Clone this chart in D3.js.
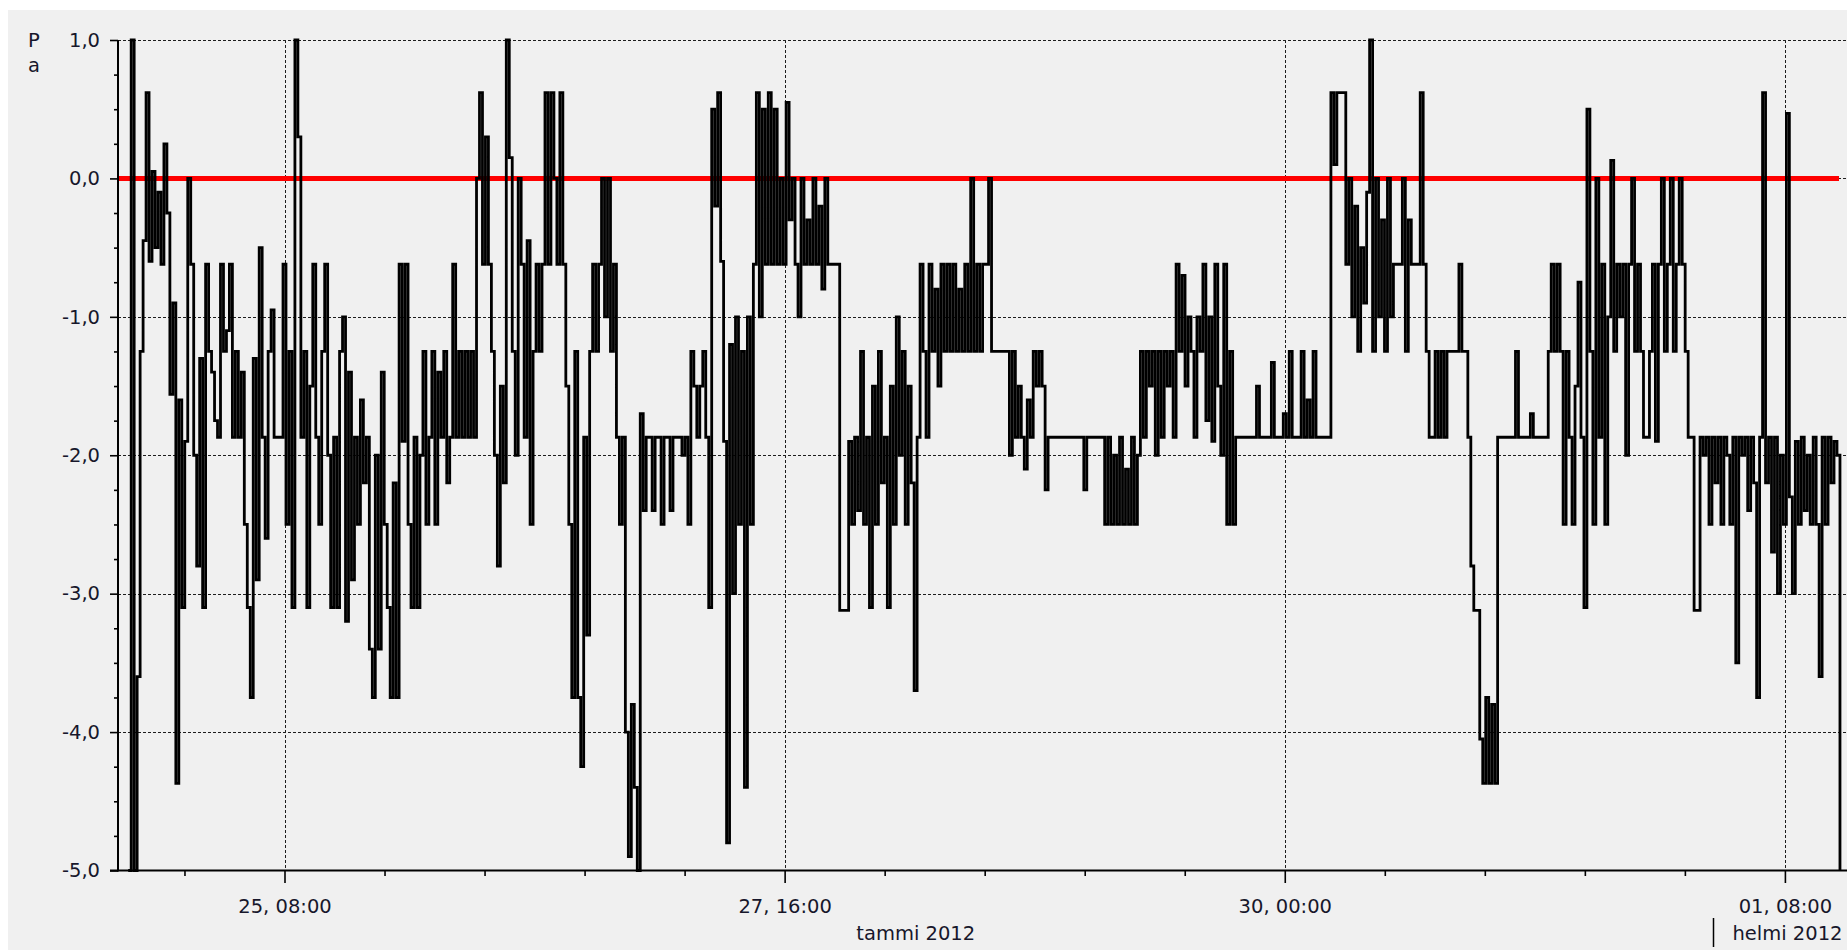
<!DOCTYPE html>
<html><head><meta charset="utf-8">
<script src="https://cdn.jsdelivr.net/npm/d3@7"></script>
<style>
html,body{margin:0;padding:0;background:#fff;overflow:hidden}
svg{display:block}
text{font-family:"DejaVu Sans",sans-serif;fill:#17172b}
</style></head><body>
<svg id="c" width="1847" height="950"></svg>
<script>
// ---- data ----
const startTime = "2012-01-24T14:30:00";
const sampleMinutes = 20;
const seg1 = [-5.0,1.0,-5.0,-3.6,-1.25,-0.45,0.62,-0.6,0.05,-0.5,
 -0.1,-0.62,0.25,-0.25,-1.56,-0.9,-4.37,-1.6,-3.1,-1.9,
 0.0,-0.62,-2.0,-2.8,-1.3,-3.1,-0.62,-1.25,-1.4,-1.75,
 -1.87,-0.62,-1.25,-1.1,-0.62,-1.87,-1.25,-1.87,-1.4,-2.5,
 -3.1,-3.75,-1.3,-2.9,-0.5,-1.87,-2.6,-1.25,-0.95,-1.87,
 -1.87,-1.87,-0.62,-2.5,-1.25,-3.1,1.0,0.3,-1.87,-1.25,
 -3.1,-1.5,-0.62,-1.87,-2.5,-1.25,-0.62,-2.0,-3.1,-1.87,
 -3.1,-1.25];
const seg2 = [-1.0,-3.2,-1.4,-2.9,-1.87,-2.5,-1.6,-2.2,-1.87,-3.4,
 -3.75,-2.0,-3.4,-1.4,-2.5,-3.1,-3.75,-2.2,-3.75,-0.62,
 -1.9,-0.62,-2.5,-3.1,-1.87,-3.1,-2.0,-1.25,-2.5,-1.87,
 -1.25,-2.5,-1.4,-1.87,-1.25,-2.2,-1.87,-0.62,-1.87,-1.25,
 -1.87,-1.25,-1.87,-1.25,-1.87,0.0,0.62,-0.62,0.3,-0.62,
 -1.25,-2.0,-2.8,-1.5,-2.2,1.0,0.15,-1.25,-2.0,0.0,
 -0.62,-1.87,-0.45,-2.5,-1.25,-0.62,-1.25,-0.62,0.62,-0.62,
 0.62,0.0];
const seg3 = [-0.62,0.62,-0.62,-1.5,-2.5,-3.75,-1.25,-3.75,-4.25,-1.87,
 -3.3,-1.25,-0.62,-1.25,-0.62,0.0,-1.0,0.0,-1.25,-0.62,
 -1.87,-2.5,-1.87,-4.0,-4.9,-3.8,-4.4,-5.0,-1.7,-2.4,
 -1.87,-1.87,-2.4,-1.87,-1.87,-2.5,-1.87,-1.87,-2.4,-1.87,
 -1.87,-1.87,-2.0,-1.87,-2.5,-1.25,-1.5,-1.87,-1.5,-1.25,
 -1.87,-3.1,0.5,-0.2,0.62,-0.6,-1.9,-4.8,-1.2,-3.0,
 -1.0,-2.5,-1.25,-4.4,-1.0,-2.5,-0.62,0.62,-1.0,0.5,
 -0.62,0.62];
const seg4 = [-0.62,0.5,-0.62,0.0,-0.62,0.55,-0.3,0.0,-0.62,-1.0,
 0.0,-0.62,-0.3,-0.62,0.0,-0.62,-0.2,-0.8,0.0,-0.62,
 -0.62,-0.62,-0.62,-3.12,-3.12,-3.12,-1.9,-2.5,-1.87,-2.4,
 -1.25,-2.5,-1.87,-3.1,-1.5,-2.5,-1.25,-2.2,-1.87,-3.1,
 -1.5,-2.5,-1.0,-2.0,-1.25,-2.5,-1.5,-2.2,-3.7,-1.87,
 -0.62,-1.25,-1.87,-0.62,-1.25,-0.8,-1.5,-0.62,-1.25,-0.62,
 -1.25,-0.62,-1.25,-0.8,-1.25,-0.62,-1.25,0.0,-1.25,-0.62,
 -1.25,-0.62];
const seg5 = [-0.62,0.0,-1.25,-1.25,-1.25,-1.25,-1.25,-1.25,-2.0,-1.25,
 -1.87,-1.5,-1.87,-2.1,-1.6,-1.87,-1.25,-1.5,-1.25,-1.5,
 -2.25,-1.87,-1.87,-1.87,-1.87,-1.87,-1.87,-1.87,-1.87,-1.87,
 -1.87,-1.87,-1.87,-2.25,-1.87,-1.87,-1.87,-1.87,-1.87,-1.87,
 -2.5,-1.87,-2.5,-2.0,-2.5,-1.87,-2.5,-2.1,-2.5,-1.87,
 -2.5,-2.0,-1.25,-1.87,-1.25,-1.5,-1.25,-2.0,-1.25,-1.87,
 -1.25,-1.5,-1.25,-1.87,-0.62,-1.25,-0.7,-1.5,-1.0,-1.25,
 -1.87,-1.0];
const seg6 = [-1.25,-0.62,-1.75,-1.0,-1.9,-0.62,-1.5,-2.0,-0.62,-2.5,
 -1.25,-2.5,-1.87,-1.87,-1.87,-1.87,-1.87,-1.87,-1.87,-1.5,
 -1.87,-1.87,-1.87,-1.87,-1.33,-1.87,-1.87,-1.87,-1.7,-1.87,
 -1.25,-1.87,-1.87,-1.87,-1.25,-1.87,-1.6,-1.87,-1.25,-1.87,
 -1.87,-1.87,-1.87,-1.87,0.62,0.1,0.62,0.62,0.62,-0.62,
 0.0,-1.0,-0.2,-1.25,-0.5,-0.9,-0.1,1.0,-1.25,0.0,
 -1.0,-0.3,-1.25,0.0,-1.0,-0.62,-0.62,-0.62,0.0,-1.25,
 -0.3,-0.62];
const seg7 = [-0.62,-0.62,0.62,-0.62,-1.25,-1.87,-1.87,-1.25,-1.87,-1.25,
 -1.87,-1.25,-1.25,-1.25,-1.25,-0.62,-1.25,-1.25,-1.87,-2.8,
 -3.12,-3.12,-4.05,-4.37,-3.75,-4.37,-3.8,-4.37,-1.87,-1.87,
 -1.87,-1.87,-1.87,-1.87,-1.25,-1.87,-1.87,-1.87,-1.87,-1.7,
 -1.87,-1.87,-1.87,-1.87,-1.87,-1.25,-0.62,-1.25,-0.62,-1.25,
 -2.5,-1.25,-1.87,-2.5,-1.5,-0.75,-1.87,-3.1,0.5,-1.25,
 -2.5,0.0,-1.87,-0.62,-2.5,-1.0,0.13,-1.25,-0.62,-1.0,
 -0.62,-2.0];
const seg8 = [-0.62,0.0,-1.25,-0.62,-1.25,-1.87,-1.87,-1.25,-0.62,-1.9,
 -0.62,0.0,-1.25,-0.62,0.0,-1.25,-0.62,0.0,-0.62,-1.25,
 -1.87,-1.87,-3.12,-3.12,-1.87,-2.0,-1.87,-2.5,-1.87,-2.2,
 -1.87,-2.5,-1.87,-2.0,-2.5,-1.87,-3.5,-1.87,-2.0,-1.87,
 -2.4,-1.87,-2.2,-3.75,-1.87,0.62,-2.2,-1.87,-2.7,-1.87,
 -3.0,-2.0,-2.5,0.47,-2.3,-3.0,-1.9,-2.5,-1.87,-2.4,
 -2.0,-2.5,-1.87,-2.5,-3.6,-1.87,-2.5,-1.87,-2.2,-1.9,
 -2.0,-5.0];
const referenceValue = 0;
const yTicks = [1, 0, -1, -2, -3, -4, -5];
const yTickLabels = ["1,0", "0,0", "-1,0", "-2,0", "-3,0", "-4,0", "-5,0"];
const majorTimes = ["2012-01-25T08:00:00", "2012-01-27T16:00:00", "2012-01-30T00:00:00", "2012-02-01T08:00:00"];
const majorLabels = ["25, 08:00", "27, 16:00", "30, 00:00", "01, 08:00"];
const monthBoundary = "2012-02-01T00:00:00";
const monthLabels = ["tammi 2012", "helmi 2012"];
const yAxisLabel = ["P", "a"];

// ---- build ----
const W = 1847, H = 950;
const svg = d3.select("#c");
svg.append("rect").attr("width", W).attr("height", H).attr("fill", "#fff");
svg.append("rect").attr("x", 8).attr("y", 10).attr("width", W - 8).attr("height", H - 10).attr("fill", "#f0f0f0");

const majors = majorTimes.map(s => new Date(s));
const x = d3.scaleTime().domain([majors[0], majors[majors.length - 1]]).range([284.5, 1784.9]);
const y = d3.scaleLinear().domain([-5, 1]).range([870.5, 40]);
const left = 118, right = W;

const values = [].concat(seg1, seg2, seg3, seg4, seg5, seg6, seg7, seg8);
const t0 = +new Date(startTime);
const data = values.map((v, i) => ({t: new Date(t0 + i * sampleMinutes * 60000), v}));

// grid
const grid = svg.append("g");
grid.selectAll("line.h").data(yTicks.filter(v => v !== -5)).join("line").attr("class", "h")
  .attr("x1", left).attr("x2", right)
  .attr("y1", d => Math.round(y(d)) + 0.5).attr("y2", d => Math.round(y(d)) + 0.5)
  .attr("stroke", "#1e1e1e").attr("stroke-width", 1).attr("stroke-dasharray", "3,2");
grid.selectAll("line.v").data(majors).join("line").attr("class", "v")
  .attr("x1", d => Math.round(x(d)) + 0.5).attr("x2", d => Math.round(x(d)) + 0.5)
  .attr("y1", y(1)).attr("y2", y(-5))
  .attr("stroke", "#1e1e1e").attr("stroke-width", 1).attr("stroke-dasharray", "3,2");

// reference line
svg.append("line").attr("x1", left).attr("x2", 1839)
  .attr("y1", y(referenceValue)).attr("y2", y(referenceValue))
  .attr("stroke", "#ff0000").attr("stroke-width", 5);

// data line
const line = d3.line().x(d => x(d.t)).y(d => y(d.v)).curve(d3.curveStepAfter);
svg.append("path").datum(data).attr("d", line)
  .attr("fill", "none").attr("stroke", "#000").attr("stroke-width", 2.8)
  .attr("stroke-linejoin", "miter");

// axes
const step = (majors[1] - majors[0]) / 5;
const minorTimes = d3.range(-3, 40).map(k => new Date(+majors[0] + k * step))
  .filter(t => x(t) > left + 2 && x(t) < W && (Math.round((t - majors[0]) / step) % 5 !== 0));
const xMinor = svg.append("g").attr("transform", "translate(0,870)")
  .call(d3.axisBottom(x).tickValues(minorTimes).tickSize(6).tickFormat(""));
xMinor.select(".domain").remove();
const xMajor = svg.append("g").attr("transform", "translate(0,870)")
  .call(d3.axisBottom(x).tickValues(majors).tickSize(13).tickFormat((d, i) => majorLabels[i]));
xMajor.select(".domain").remove();
xMajor.selectAll("text").attr("y", 43).attr("dy", 0)
  .style("font-family", "DejaVu Sans").style("font-size", "19.5px").attr("fill", "#17172b");

const yMinorVals = d3.range(-5, 1.001, 0.25).filter(v => Math.abs(v - Math.round(v)) > 1e-6);
const yMinor = svg.append("g").attr("transform", `translate(${left},0)`)
  .call(d3.axisLeft(y).tickValues(yMinorVals).tickSize(4).tickFormat(""));
yMinor.select(".domain").remove();
const yMajor = svg.append("g").attr("transform", `translate(${left},0)`)
  .call(d3.axisLeft(y).tickValues(yTicks).tickSize(8).tickPadding(10).tickFormat((d, i) => yTickLabels[i]));
yMajor.select(".domain").remove();
yMajor.selectAll("text").style("font-family", "DejaVu Sans").style("font-size", "19.5px").attr("fill", "#17172b");
svg.selectAll(".tick line").attr("stroke", "#000").attr("stroke-width", 1.6);

// axis lines
svg.append("line").attr("x1", left).attr("x2", left).attr("y1", y(1)).attr("y2", y(-5) + 1)
  .attr("stroke", "#000").attr("stroke-width", 2);
svg.append("line").attr("x1", 110).attr("x2", W).attr("y1", 870.5).attr("y2", 870.5)
  .attr("stroke", "#000").attr("stroke-width", 2);

// y-axis unit label
svg.selectAll("text.unit").data(yAxisLabel).join("text").attr("class", "unit")
  .attr("x", 28).attr("y", (d, i) => 47 + i * 25)
  .style("font-size", "19.5px").text(d => d);

// month labels
const xb = x(new Date(monthBoundary));
svg.append("text").attr("x", (left + xb) / 2).attr("y", 940).attr("text-anchor", "middle")
  .style("font-size", "19.5px").text(monthLabels[0]);
svg.append("line").attr("x1", Math.round(xb) + 0.5).attr("x2", Math.round(xb) + 0.5)
  .attr("y1", 918).attr("y2", 947).attr("stroke", "#000").attr("stroke-width", 1.5);
svg.append("text").attr("x", xb + 19).attr("y", 940)
  .style("font-size", "19.5px").text(monthLabels[1]);
</script>
</body></html>
